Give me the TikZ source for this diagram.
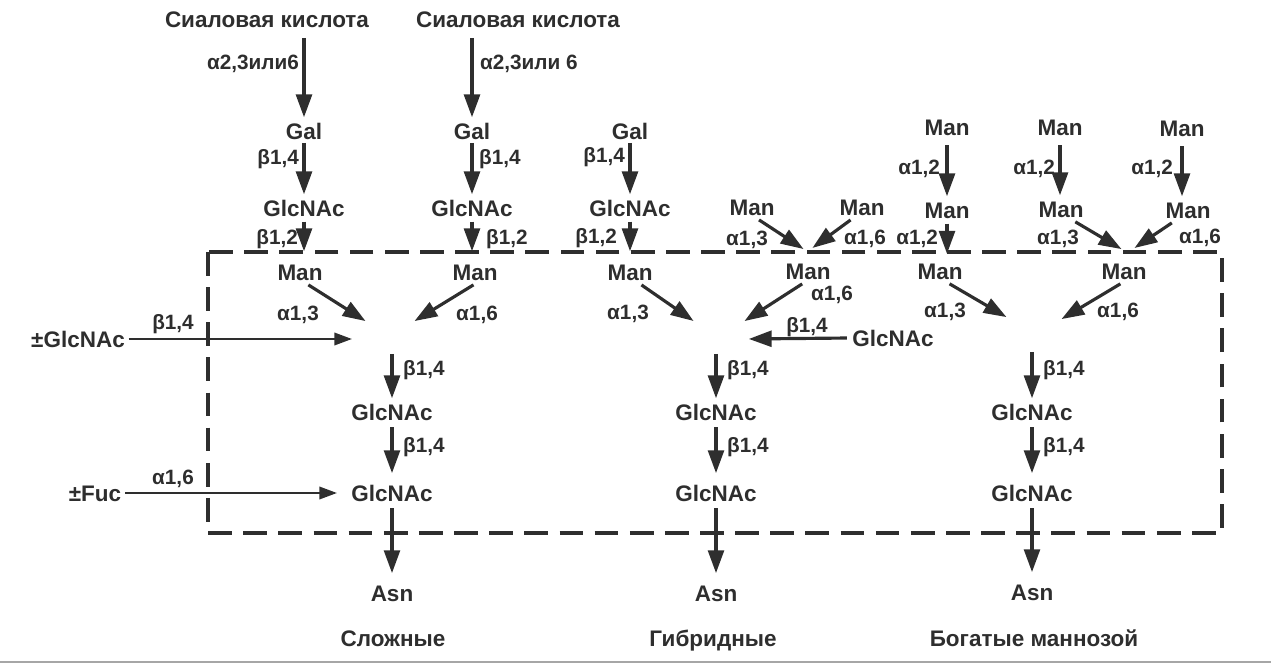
\documentclass[tikz,border=0pt]{standalone}
\usepackage{fontspec}
\setmainfont{Liberation Sans}
\usetikzlibrary{arrows.meta}
\definecolor{ink}{HTML}{2E2E2E}
\newcommand{\sugfont}{\bfseries\fontsize{12.8}{15}\selectfont}
\newcommand{\lblfont}{\bfseries\fontsize{11.8}{14}\selectfont}

\begin{document}
\begin{tikzpicture}[x=0.02cm,y=-0.02cm,
    sugar/.style={inner sep=2pt, text height=9.2pt, text depth=0pt, font=\sugfont, text=ink},
    lbl/.style={inner sep=1pt, text height=8.5pt, text depth=0pt, font=\lblfont, text=ink},
    bond/.style={draw=ink, line width=1.8pt, -{Triangle[length=13pt,width=9pt]}, shorten <=1pt, shorten >=1pt},
    thinbond/.style={draw=ink, line width=1.4pt, -{Triangle[length=10pt,width=7pt]}},
    box/.style={draw=ink, line width=1.8pt, dash pattern=on 13.5pt off 6.5pt}]
    \useasboundingbox (0,0) rectangle (1271,665);

    % core box
    \draw[box] (208,252) rectangle (1222,533);

    % complex branches
    \node[sugar] (sia1) at (267,19) {Сиаловая кислота};
    \node[sugar] (sia2) at (518,19) {Сиаловая кислота};
    \node[sugar] (gal1) at (304,131) {Gal};
    \node[sugar] (gal2) at (472,131) {Gal};
    \node[sugar] (gn1) at (304,208) {GlcNAc};
    \node[sugar] (gn2) at (472,208) {GlcNAc};
    \node[sugar] (man1) at (300,272) {Man};
    \node[sugar] (man2) at (475,272) {Man};

    % hybrid branches
    \node[sugar] (gal3) at (630,131) {Gal};
    \node[sugar] (gn3) at (630,208) {GlcNAc};
    \node[sugar] (man3) at (630,272) {Man};
    \node[sugar] (hm1) at (752,207) {Man};
    \node[sugar] (hm2) at (862,207) {Man};
    \node[sugar] (hman) at (808,271) {Man};
    \node[sugar] (hgn) at (893,338) {GlcNAc};

    % high mannose branches
    \node[sugar] (mt1) at (947,127) {Man};
    \node[sugar] (mt2) at (1060,127) {Man};
    \node[sugar] (mt3) at (1182,128) {Man};
    \node[sugar] (mm1) at (947,210) {Man};
    \node[sugar] (mm2) at (1061,209) {Man};
    \node[sugar] (mm3) at (1188,210) {Man};
    \node[sugar] (ml1) at (940,271) {Man};
    \node[sugar] (ml2) at (1124,271) {Man};

    % cores
    \node[sugar] (cgn1) at (392,412) {GlcNAc};
    \node[sugar] (cgn2) at (392,493) {GlcNAc};
    \node[sugar] (casn) at (392,593) {Asn};
    \node[sugar] (cname) at (393,638) {Сложные};
    \node[sugar] (hgn1) at (716,412) {GlcNAc};
    \node[sugar] (hgn2) at (716,493) {GlcNAc};
    \node[sugar] (hasn) at (716,593) {Asn};
    \node[sugar] (hname) at (713,638) {Гибридные};
    \node[sugar] (mgn1) at (1032,412) {GlcNAc};
    \node[sugar] (mgn2) at (1032,493) {GlcNAc};
    \node[sugar] (masn) at (1032,592) {Asn};
    \node[sugar] (mname) at (1034,638) {Богатые маннозой};
    \node[sugar] (pglc) at (78,339) {±GlcNAc};
    \node[sugar] (pfuc) at (95,493) {±Fuc};

    % free ends
    \coordinate (c13) at (367,322);
    \coordinate (c16) at (413,322);
    \coordinate (cglc) at (352,339);
    \coordinate (cj) at (392,352);
    \coordinate (h13) at (695,322);
    \coordinate (h16) at (743,322);
    \coordinate (hglc) at (747,339);
    \coordinate (hj) at (716,352);
    \coordinate (hu1) at (805,250);
    \coordinate (hu2) at (811,249);
    \coordinate (m13) at (1008,318);
    \coordinate (m16) at (1060,320);
    \coordinate (mj) at (1032,350);
    \coordinate (mu1) at (1123,250);
    \coordinate (mu2) at (1133,249);

    % linkages
    \draw[bond, shorten <=4pt] (sia1.south -| gal1) -- (gal1.north);
    \draw[bond, shorten <=4pt] (sia2.south -| gal2) -- (gal2.north);
    \draw[bond, shorten <=0pt] (gal1.south) -- (gn1.north);
    \draw[bond, shorten <=0pt] (gal2.south) -- (gn2.north);
    \draw[bond, shorten <=0pt] (gal3.south) -- (gn3.north);
    \draw[bond, shorten >=5pt] (gn1.south) -- (gn1.south |- man1.north);
    \draw[bond, shorten >=5pt] (gn2.south) -- (gn2.south |- man2.north);
    \draw[bond, shorten >=5pt] (gn3.south) -- (gn3.south |- man3.north);
    \draw[bond] (man1.-60) -- (c13);
    \draw[bond] (man2.south) -- (c16);
    \draw[bond] (man3.-50) -- (h13);
    \draw[bond] (hman.-110) -- (h16);
    \draw[bond] (hgn.west) -- (hglc);
    \draw[bond] (hm1.-65) -- (hu1);
    \draw[bond] (hm2.-130) -- (hu2);
    \draw[bond, shorten <=3.5pt] (mt1.south) -- (mt1.south |- mm1.north);
    \draw[bond, shorten <=3.5pt] (mt2.south) -- (mt2.south |- mm2.north);
    \draw[bond, shorten <=3.5pt] (mt3.south) -- (mt3.south |- mm3.north);
    \draw[bond, shorten >=3pt] (mm1.south) -- (mm1.south |- ml1.north);
    \draw[bond] (mm2.-43) -- (mu1);
    \draw[bond] (mm3.-141) -- (mu2);
    \draw[bond] (ml1.-56) -- (m13);
    \draw[bond] (ml2.-100) -- (m16);
    \draw[thinbond] (pglc.east) -- (cglc);
    \draw[thinbond, shorten >=6pt] (pfuc.east) -- (cgn2.west);

    % core linkages
    \draw[bond] (cj) -- (cgn1.north);
    \draw[bond, shorten <=2pt, shorten >=4.5pt] (cgn1.south) -- (cgn2.north);
    \draw[bond, shorten <=2pt, shorten >=4.5pt] (cgn2.south) -- (casn.north);
    \draw[bond] (hj) -- (hgn1.north);
    \draw[bond, shorten <=2pt, shorten >=4.5pt] (hgn1.south) -- (hgn2.north);
    \draw[bond, shorten <=2pt, shorten >=4.5pt] (hgn2.south) -- (hasn.north);
    \draw[bond] (mj) -- (mgn1.north);
    \draw[bond, shorten <=2pt, shorten >=4.5pt] (mgn1.south) -- (mgn2.north);
    \draw[bond, shorten <=2pt, shorten >=4.5pt] (mgn2.south) -- (masn.north);

    % labels
    \node[lbl, anchor=east] (la1) at (301,62) {α2,3или6};
    \node[lbl, anchor=west] (la2) at (478,62) {α2,3или 6};
    \node[lbl, anchor=east] (lb1) at (301,157) {β1,4};
    \node[lbl, anchor=west] (lb2) at (477,157) {β1,4};
    \node[lbl, anchor=east] (lb3) at (627,155) {β1,4};
    \node[lbl, anchor=east] (lc1) at (300,237) {β1,2};
    \node[lbl, anchor=west] (lc2) at (484,237) {β1,2};
    \node[lbl, anchor=east] (lc3) at (619,236) {β1,2};
    \node[lbl] (ld1) at (298,313) {α1,3};
    \node[lbl] (ld2) at (477,313) {α1,6};
    \node[lbl] (ld3) at (628,312) {α1,3};
    \node[lbl] (le1) at (747,238) {α1,3};
    \node[lbl] (le2) at (865,237) {α1,6};
    \node[lbl] (le3) at (832,293) {α1,6};
    \node[lbl] (le4) at (807,325) {β1,4};
    \node[lbl, anchor=east] (lf1) at (942,167) {α1,2};
    \node[lbl, anchor=east] (lf2) at (1057,167) {α1,2};
    \node[lbl, anchor=east] (lf3) at (1175,167) {α1,2};
    \node[lbl, anchor=east] (lf4) at (940,237) {α1,2};
    \node[lbl] (lf5) at (1058,237) {α1,3};
    \node[lbl] (lf6) at (1200,236) {α1,6};
    \node[lbl] (lf7) at (945,310) {α1,3};
    \node[lbl] (lf8) at (1118,310) {α1,6};
    \node[lbl, anchor=west] (lh1) at (401,368) {β1,4};
    \node[lbl, anchor=west] (lh2) at (401,445) {β1,4};
    \node[lbl, anchor=west] (lh3) at (725,368) {β1,4};
    \node[lbl, anchor=west] (lh4) at (725,445) {β1,4};
    \node[lbl, anchor=west] (lh5) at (1041,368) {β1,4};
    \node[lbl, anchor=west] (lh6) at (1041,445) {β1,4};
    \node[lbl] (lg1) at (173,322) {β1,4};
    \node[lbl] (lg2) at (173,477) {α1,6};

    \draw[gray!70, line width=1.2pt] (0,662) -- (1271,662);
\end{tikzpicture}
\end{document}
